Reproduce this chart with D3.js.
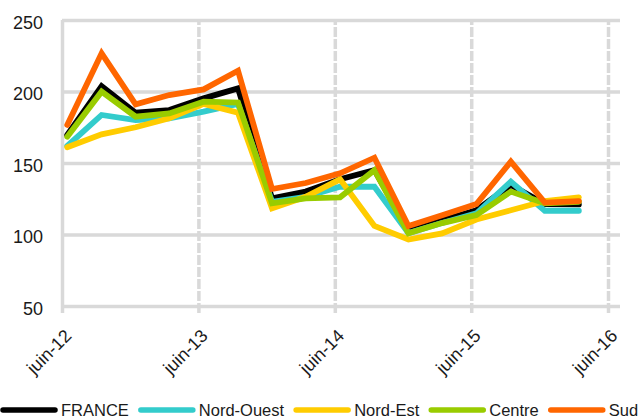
<!DOCTYPE html>
<html>
<head>
<meta charset="utf-8">
<script src="https://cdn.jsdelivr.net/npm/d3@7"></script>
<style>
  body { margin: 0; background: #fff; }
  svg { display: block; font-family: "Liberation Sans", Arial, sans-serif; }
</style>
</head>
<body>
<div class="chart"></div>
<script>
// data
const dates = ['2012-06-15', '2012-09-15', '2012-12-15', '2013-03-15',
  '2013-06-15', '2013-09-15', '2013-12-15', '2014-03-15',
  '2014-06-15', '2014-09-15', '2014-12-15', '2015-03-15',
  '2015-06-15', '2015-09-15', '2015-12-15', '2016-03-15'];
const france = [169.6, 203.8, 185.2, 187, 195.2, 202.2, 125.3, 130, 138.6, 145, 103, 110, 117, 134.6, 121.3, 121];
const nordOuest = [161.9, 183.6, 180, 181.3, 185.9, 191.3, 122.9, 126.4, 133.4, 133.4, 101, 108, 114.8, 137, 116.6, 116.6];
const nordEst = [161, 170, 175, 181.3, 191.3, 185.2, 118.3, 126.4, 138.6, 106, 96.5, 100.8, 110.5, 117, 123.4, 126];
const centre = [168.4, 199.9, 182.4, 184.7, 192.9, 192.2, 121.8, 125.3, 126, 145, 100.8, 108, 113.6, 130, 121.8, 122.9];
const sud = [176.6, 226.7, 191, 197.5, 201.5, 214.5, 131.8, 136, 142.8, 153.7, 106, 113.5, 121.3, 151, 122.3, 123.4];
const xTickDates = ['2012-06-01', '2013-06-01', '2014-06-01', '2015-06-01', '2016-06-01'];
const xTickLabels = ['juin-12', 'juin-13', 'juin-14', 'juin-15', 'juin-16'];
const yTicks = [50, 100, 150, 200, 250];

const series = [
  { name: 'FRANCE', values: france, color: '#000000' },
  { name: 'Nord-Ouest', values: nordOuest, color: '#33CCCC' },
  { name: 'Nord-Est', values: nordEst, color: '#FFCC00' },
  { name: 'Centre', values: centre, color: '#99CC00' },
  { name: 'Sud', values: sud, color: '#FF6600' }
];

const W = 643, H = 418;
const margin = { left: 62, right: 620, top: 20, bottom: 306 };
const grid = '#d9d9d9';

const parse = d3.timeParse('%Y-%m-%d');

const svg = d3.select('.chart')
  .append('svg')
    .attr('width', W)
    .attr('height', H);

const x = d3.scaleTime()
  .domain([parse(xTickDates[0]), parse(xTickDates[xTickDates.length - 1])])
  .range([margin.left, 608]);
const y = d3.scaleLinear()
  .domain([50, 250])
  .range([margin.bottom, margin.top]);

// horizontal grid + y labels
const yAxis = d3.axisLeft(y)
  .tickValues(yTicks)
  .tickSize(-(margin.right - margin.left))
  .tickPadding(19)
  .tickFormat(d3.format('d'));
const gy = svg.append('g')
  .attr('transform', `translate(${margin.left}, 0)`)
  .call(yAxis);
gy.select('.domain').remove();
gy.selectAll('line').attr('stroke', grid).attr('stroke-width', 3.5);
gy.selectAll('text')
  .attr('font-size', 18)
  .attr('fill', '#1a1a1a')
  .attr('dy', '0.45em');

// vertical dashed grid + x labels
const xAxis = d3.axisBottom(x)
  .tickValues(xTickDates.map(parse))
  .tickSize(-(margin.bottom - margin.top) - 7)
  .tickFormat((d, i) => xTickLabels[i]);
const gx = svg.append('g')
  .attr('transform', `translate(0, ${margin.bottom + 7})`)
  .call(xAxis);
gx.select('.domain').remove();
gx.selectAll('line')
  .attr('stroke', grid)
  .attr('stroke-width', 3.5)
  .attr('stroke-dasharray', (d, i) => i === 0 ? null : '10,2');
gx.selectAll('text')
  .attr('font-size', 18)
  .attr('fill', '#1a1a1a')
  .attr('text-anchor', 'end')
  .attr('y', 0)
  .attr('dy', 0)
  .attr('transform', 'translate(10, 24) rotate(-45)');

// lines
const line = d3.line()
  .x((d, i) => x(parse(dates[i])))
  .y(d => y(d));

svg.append('g')
  .selectAll('path')
  .data(series)
  .enter()
  .append('path')
    .attr('d', d => line(d.values))
    .attr('fill', 'none')
    .attr('stroke', d => d.color)
    .attr('stroke-width', 5.8)
    .attr('stroke-linejoin', 'miter')
    .attr('stroke-linecap', 'round');

// legend
const legend = svg.append('g');
let lx = 3;
series.forEach(s => {
  legend.append('line')
    .attr('x1', lx).attr('x2', lx + 52)
    .attr('y1', 410).attr('y2', 410)
    .attr('stroke', s.color)
    .attr('stroke-width', 5.5)
    .attr('stroke-linecap', 'round');
  const t = legend.append('text')
    .attr('x', lx + 58)
    .attr('y', 416)
    .attr('font-size', 16.5)
    .attr('fill', '#1a1a1a')
    .text(s.name);
  lx += 58 + t.node().getComputedTextLength() + 12;
});
</script>
</body>
</html>
